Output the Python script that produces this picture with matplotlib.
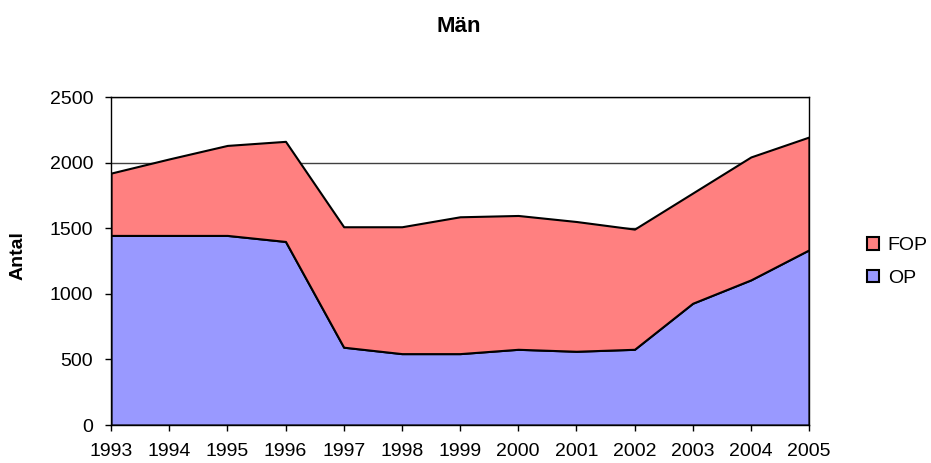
import matplotlib
matplotlib.use("Agg")
import matplotlib.pyplot as plt

years = [1993, 1994, 1995, 1996, 1997, 1998, 1999, 2000, 2001, 2002, 2003, 2004, 2005]
op = [1445, 1445, 1445, 1399, 593, 544, 544, 577, 562, 577, 928, 1106, 1335]
total = [1920, 2028, 2131, 2162, 1511, 1511, 1587, 1597, 1551, 1493, 1768, 2043, 2195]
fop = [t - o for t, o in zip(total, op)]

plt.rcParams['font.family'] = ['Liberation Sans', 'DejaVu Sans']

W, H = 931, 463
fig = plt.figure(figsize=(W/100, H/100), dpi=100)
ax = fig.add_axes([111/W, 1 - 425/H, (809-111)/W, (425-97)/H])

x = list(range(len(years)))
ax.stackplot(x, op, fop, colors=['#9999FF', '#FF8080'], edgecolor='black', linewidth=1.5,
             labels=['OP', 'FOP'], zorder=2)

ax.set_xlim(0, len(years) - 1)
ax.set_ylim(0, 2500)
ax.set_yticks([0, 500, 1000, 1500, 2000, 2500])
ax.set_xticks(x)
ax.set_xticklabels([str(y) for y in years])
ax.tick_params(axis='both', labelsize=14, direction='out', length=4.3, width=1, color='black')
ax.tick_params(axis='y', pad=8.5)
ax.tick_params(axis='x', pad=9)
ax.yaxis.grid(True, color='#404040', linewidth=1, zorder=0)
ax.set_axisbelow(True)
for s in ax.spines.values():
    s.set_color('black')
    s.set_linewidth(1)
    s.set_zorder(3)

fig.text(18/W, 1 - 256/H, 'Antal', rotation=90, ha='center', va='center',
         fontsize=14, fontweight='bold')
fig.text(459/W, 1 - 32/H, 'Män', ha='center', va='baseline', fontsize=16, fontweight='bold')

handles, labels = ax.get_legend_handles_labels()
leg = fig.legend(handles[::-1], labels[::-1], loc='center left', bbox_to_anchor=(867/W, 1 - 262/H),
                 frameon=False, fontsize=14, handlelength=0.62, handleheight=0.62, handletextpad=0.45,
                 labelspacing=0.8, borderpad=0, borderaxespad=0)
for h in leg.legend_handles:
    h.set_edgecolor('black')
    h.set_linewidth(1.5)

fig.savefig('out.png', dpi=100)
